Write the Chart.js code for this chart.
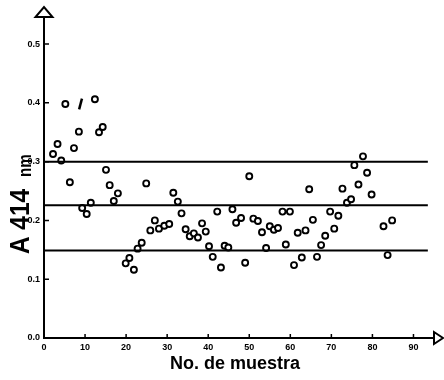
<!DOCTYPE html>
<html>
<head>
<meta charset="utf-8">
<script src="https://cdn.jsdelivr.net/npm/chart.js@4/dist/chart.umd.min.js"></script>
<style>
  html, body { margin: 0; padding: 0; background: #fff; }
  #wrap { width: 444px; height: 380px; position: relative; }
</style>
</head>
<body>
<div id="wrap"><canvas id="grafico"></canvas></div>
<script>
// --- datos ---
const muestraX = [2.2, 3.3, 4.2, 5.2, 6.3, 7.3, 8.5, 9.3, 10.4, 11.4, 12.4, 13.4, 14.3, 15.1, 16.0, 17.0, 18.0,
  19.9, 20.8, 21.9, 22.8, 23.8, 24.9, 25.9, 27.0, 28.0, 29.3, 30.5, 31.5, 32.6, 33.5, 34.5, 35.5, 36.5, 37.5,
  38.5, 39.4, 40.2, 41.1, 42.2, 43.1, 44.0, 44.9, 45.9, 46.8, 48.0, 49.0, 50.0, 51.0, 52.1, 53.1, 54.1, 55.0,
  56.0, 57.0, 58.1, 58.9, 59.9, 60.9, 61.8, 62.8, 63.7, 64.6, 65.5, 66.5, 67.5, 68.5, 69.7, 70.7, 71.7, 72.7,
  73.8, 74.8, 75.6, 76.6, 77.7, 78.7, 79.8, 82.7, 83.7, 84.8];
const absorbancia = [0.313, 0.330, 0.302, 0.398, 0.265, 0.323, 0.351, 0.221, 0.211, 0.230, 0.406, 0.350, 0.359,
  0.286, 0.260, 0.233, 0.246, 0.127, 0.136, 0.116, 0.152, 0.162, 0.263, 0.183, 0.200, 0.186, 0.191, 0.194,
  0.247, 0.232, 0.212, 0.185, 0.173, 0.178, 0.171, 0.195, 0.181, 0.156, 0.138, 0.215, 0.120, 0.157, 0.154,
  0.219, 0.196, 0.204, 0.128, 0.275, 0.203, 0.199, 0.180, 0.153, 0.190, 0.184, 0.187, 0.215, 0.159, 0.215,
  0.124, 0.179, 0.137, 0.183, 0.253, 0.201, 0.138, 0.158, 0.174, 0.215, 0.186, 0.208, 0.254, 0.230, 0.236,
  0.294, 0.261, 0.309, 0.281, 0.244, 0.190, 0.141, 0.200];
// marca en forma de "/" que aparece junto a la muestra 9
const marcaX = [8.9];
const marcaY = [0.398];

// líneas de control (límite superior, media, límite inferior)
const limiteSup = 0.300;
const media = 0.226;
const limiteInf = 0.149;
const lineaX = [0, 93.5];

const ticksX = [0, 10, 20, 30, 40, 50, 60, 70, 80, 90];
const ticksY = [0.0, 0.1, 0.2, 0.3, 0.4, 0.5];
const etiquetasY = ['0.0', '0.1', '0.2', '0.3', '0.4', '0.5'];

const puntos = muestraX.map((x, i) => ({ x: x, y: absorbancia[i] }));
const marca = marcaX.map((x, i) => ({ x: x, y: marcaY[i] }));
const linea = v => lineaX.map(x => ({ x: x, y: v }));

const fuente = '"Liberation Sans", Arial, sans-serif';

const lineaDs = v => ({
  type: 'line',
  data: linea(v),
  borderColor: '#000',
  borderWidth: 2,
  pointRadius: 0,
  fill: false
});

// flechas, marcas de escala y títulos de ejes
const decoracion = {
  id: 'decoracion',
  afterDraw(chart) {
    const { ctx, chartArea: a, scales } = chart;
    ctx.save();
    ctx.strokeStyle = '#000';
    ctx.fillStyle = '#fff';
    ctx.lineJoin = 'miter';

    // marcas hacia dentro
    ctx.beginPath();
    ticksY.forEach(v => {
      const y = scales.y.getPixelForValue(v);
      ctx.moveTo(a.left, y);
      ctx.lineTo(a.left + 5, y);
    });
    ticksX.forEach(v => {
      const x = scales.x.getPixelForValue(v);
      ctx.moveTo(x, a.bottom);
      ctx.lineTo(x, a.bottom - 4);
    });
    ctx.lineWidth = 1.5;
    ctx.stroke();

    // flecha eje Y
    ctx.lineWidth = 2;
    ctx.beginPath();
    ctx.moveTo(a.left - 8.5, a.top);
    ctx.lineTo(a.left + 8.5, a.top);
    ctx.lineTo(a.left, a.top - 10);
    ctx.closePath();
    ctx.fill();
    ctx.stroke();

    // flecha eje X
    ctx.beginPath();
    ctx.moveTo(a.right, a.bottom - 6);
    ctx.lineTo(a.right, a.bottom + 6);
    ctx.lineTo(a.right + 9, a.bottom);
    ctx.closePath();
    ctx.fill();
    ctx.stroke();

    // títulos
    ctx.fillStyle = '#000';
    ctx.textAlign = 'center';
    ctx.textBaseline = 'alphabetic';
    ctx.font = 'bold 18px ' + fuente;
    ctx.fillText('No. de muestra', 235, 369);

    ctx.translate(29, 254);
    ctx.rotate(-Math.PI / 2);
    ctx.textAlign = 'left';
    ctx.save();
    ctx.scale(0.87, 1);
    ctx.font = 'bold 28px ' + fuente;
    ctx.fillText('A 414', 0, 0);
    ctx.restore();
    ctx.save();
    ctx.translate(77, 2);
    ctx.scale(0.8, 1);
    ctx.font = 'bold 19px ' + fuente;
    ctx.fillText('nm', 0, 0);
    ctx.restore();

    ctx.restore();
  }
};

new Chart(document.getElementById('grafico'), {
  type: 'scatter',
  data: {
    datasets: [
      lineaDs(limiteSup),
      lineaDs(media),
      lineaDs(limiteInf),
      {
        data: puntos,
        pointStyle: 'circle',
        pointRadius: 3,
        pointBorderWidth: 1.9,
        pointBorderColor: '#000',
        pointBackgroundColor: '#fff'
      },
      {
        data: marca,
        pointStyle: 'line',
        rotation: -75,
        pointRadius: 5.5,
        pointBorderWidth: 2.5,
        pointBorderColor: '#000'
      }
    ]
  },
  options: {
    responsive: true,
    maintainAspectRatio: false,
    animation: false,
    layout: { padding: { top: 17, right: 10, left: 0, bottom: 0 } },
    plugins: {
      legend: { display: false },
      tooltip: { enabled: false }
    },
    scales: {
      x: {
        type: 'linear',
        min: 0,
        max: 95,
        afterBuildTicks: s => { s.ticks = ticksX.map(v => ({ value: v })); },
        afterFit: s => { s.height = 42; },
        grid: { display: false, drawTicks: false },
        border: { display: true, color: '#000', width: 2 },
        ticks: {
          padding: 4,
          color: '#000',
          maxRotation: 0,
          font: { family: fuente, size: 9, weight: 'bold' }
        }
      },
      y: {
        type: 'linear',
        min: 0,
        max: 0.546,
        afterBuildTicks: s => { s.ticks = ticksY.map(v => ({ value: v })); },
        afterFit: s => { s.width = 44; },
        grid: { display: false, drawTicks: false },
        border: { display: true, color: '#000', width: 2 },
        ticks: {
          padding: 4,
          color: '#000',
          font: { family: fuente, size: 9, weight: 'bold' },
          callback: (v, i) => etiquetasY[i]
        }
      }
    }
  },
  plugins: [decoracion]
});
</script>
</body>
</html>
